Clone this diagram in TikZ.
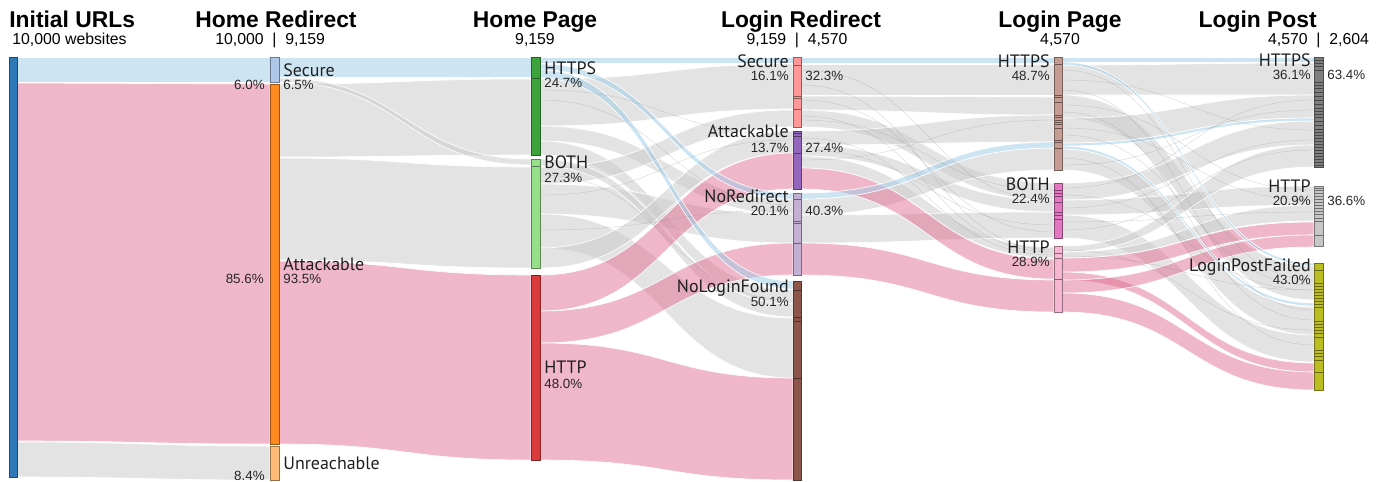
\documentclass[tikz,border=0pt]{standalone}
\usepackage{fontspec}
\setmainfont{Liberation Sans}
\newfontfamily\lblfont{PT Sans}
\usetikzlibrary{fit, positioning}

% flow colours (drawn half transparent)
\definecolor{flowgray}{HTML}{C8C8C8}
\definecolor{flowpink}{HTML}{E06F93}
\definecolor{flowblue}{HTML}{9BCBE8}
% bar colours
\definecolor{initblue}{HTML}{2E78B7}
\definecolor{hrsec}{HTML}{AEC7E8}
\definecolor{hratt}{HTML}{FF8A1F}
\definecolor{hrunr}{HTML}{FFBB78}
\definecolor{hphttps}{HTML}{3DA33D}
\definecolor{hpboth}{HTML}{98DF8A}
\definecolor{hphttp}{HTML}{DC3B3B}
\definecolor{lrsec}{HTML}{FF9896}
\definecolor{lratt}{HTML}{9467BD}
\definecolor{lrnor}{HTML}{C5B0D5}
\definecolor{lrnlf}{HTML}{8C564B}
\definecolor{lphttps}{HTML}{C49C94}
\definecolor{lpboth}{HTML}{E377C2}
\definecolor{lphttp}{HTML}{F7B6D2}
\definecolor{pohttps}{HTML}{7F7F7F}
\definecolor{pohttp}{HTML}{C7C7C7}
\definecolor{pofail}{HTML}{BCBD22}

% band from (x1, top1..bot1) to (x2, top2..bot2)
\newcommand{\band}[7]{%
  \pgfmathsetmacro\bandmid{(#1+#4)/2}%
  \path[#7] (#1,#2) .. controls (\bandmid,#2) and (\bandmid,#5) .. (#4,#5)
    -- (#4,#6) .. controls (\bandmid,#6) and (\bandmid,#3) .. (#1,#3) -- cycle;}
% bar node spanning a box
\newcommand{\sbar}[6]{\node[bar=#6, fit={(#2,#3) (#4,#5)}] (#1) {};}

\begin{document}
\begin{tikzpicture}[x=0.02cm, y=-0.02cm,
    bar/.style={draw=#1!60!black, fill=#1, line width=0.45pt, inner sep=0pt},
    seg/.style={draw=#1!55!black, line width=0.35pt},
    gflow/.style={fill=flowgray, fill opacity=0.5, draw=white, line width=0.35pt},
    pflow/.style={fill=flowpink, fill opacity=0.5, draw=white, line width=0.35pt},
    bflow/.style={fill=flowblue, fill opacity=0.5, draw=white, line width=0.35pt},
    thinflow/.style={draw=black!50, line width=0.2pt, draw opacity=0.35},
    head/.style={font=\fontsize{13}{15}\selectfont\bfseries, inner sep=0pt},
    sub/.style={font=\fontsize{9}{11}\selectfont, inner sep=0pt},
    lbl/.style={font=\lblfont\fontsize{10.2}{11}\selectfont, text=black!88, inner sep=0pt},
    pct/.style={font=\fontsize{7.6}{9}\selectfont, text=black!85, inner sep=0pt}
  ]
  \useasboundingbox (0,0) rectangle (1381,481);

  %% flows: Initial URLs -> Home Redirect
  \band{17}{442}{477}{270}{446}{480}{gflow}
  \band{17}{83}{441}{270}{84}{444}{pflow}
  \band{17}{57}{82}{270}{57}{82}{bflow}

  %% Home Redirect -> Home Page
  \band{279}{84}{157}{531}{79}{155}{gflow}
  \band{279}{158}{260}{531}{167}{268}{gflow}
  \band{279}{78}{82}{531}{159}{165}{gflow}
  \band{279}{261}{444}{531}{275}{460}{pflow}
  \band{279}{57}{77}{531}{57}{77}{bflow}

  %% Home Page -> Login Redirect
  \band{540}{79}{126}{793}{64}{109}{gflow}
  \band{540}{126}{141}{793}{199}{214}{gflow}
  \band{540}{141}{155}{793}{290}{304}{gflow}
  \band{540}{167}{184}{793}{110}{127}{gflow}
  \band{540}{184}{214}{793}{214}{243}{gflow}
  \band{540}{214}{248}{793}{318}{378}{gflow}
  \band{540}{159}{166}{793}{304}{317}{gflow}
  \band{540}{248}{268}{793}{131}{153}{gflow}
  \band{540}{275}{311}{793}{153}{189}{pflow}
  \band{540}{311}{343}{793}{243}{275}{pflow}
  \band{540}{343}{460}{793}{378}{480}{pflow}
  \band{540}{57}{63}{793}{57}{63}{bflow}
  \band{540}{64}{70}{793}{193}{199}{bflow}
  \band{540}{70}{78}{793}{281}{289}{bflow}
  \foreach \ya/\yb in {90/135, 100/205, 175/300, 195/140, 230/210}
    \draw[thinflow] (540,\ya) .. controls (666,\ya) and (666,\yb) .. (793,\yb);

  %% Login Redirect -> Login Page
  \band{801}{64}{95}{1054}{64}{95}{gflow}
  \band{801}{96}{110}{1054}{97}{115}{gflow}
  \band{801}{110}{127}{1054}{183}{200}{gflow}
  \band{801}{131}{145}{1054}{115}{142}{gflow}
  \band{801}{145}{156}{1054}{200}{212}{gflow}
  \band{801}{156}{168}{1054}{247}{258}{gflow}
  \band{801}{199}{215}{1054}{148}{170}{gflow}
  \band{801}{215}{243}{1054}{212}{238}{gflow}
  \band{801}{168}{189}{1054}{259}{279}{pflow}
  \band{801}{243}{275}{1054}{280}{312}{pflow}
  \band{801}{57}{63}{1054}{57}{63}{bflow}
  \band{801}{193}{199}{1054}{142}{148}{bflow}
  \foreach \ya/\yb in {70/200, 85/250, 100/232, 116/252, 120/190, 138/255, 150/225, 160/120}
    \draw[thinflow] (801,\ya) .. controls (927,\ya) and (927,\yb) .. (1054,\yb);

  %% Login Page -> Login Post
  \band{1062}{65}{95}{1314}{63}{95}{gflow}
  \band{1062}{95}{118}{1314}{266}{300}{gflow}
  \band{1062}{118}{143}{1314}{95}{118}{gflow}
  \band{1062}{149}{170}{1314}{307}{335}{gflow}
  \band{1062}{183}{200}{1314}{121}{145}{gflow}
  \band{1062}{200}{215}{1314}{186}{205}{gflow}
  \band{1062}{215}{238}{1314}{335}{362}{gflow}
  \band{1062}{246}{252}{1314}{145}{167}{gflow}
  \band{1062}{252}{258}{1314}{205}{221}{gflow}
  \band{1062}{258}{272}{1314}{222}{235}{pflow}
  \band{1062}{272}{280}{1314}{363}{372}{pflow}
  \band{1062}{280}{293}{1314}{235}{247}{pflow}
  \band{1062}{293}{312}{1314}{372}{390}{pflow}
  \band{1062}{57}{62}{1314}{57}{62}{bflow}
  \band{1062}{62}{65}{1314}{263}{266}{bflow}
  \band{1062}{143}{146}{1314}{118}{121}{bflow}
  \band{1062}{146}{149}{1314}{303}{306}{bflow}
  \foreach \ya/\yb in {70/280, 80/130, 90/310, 105/190, 112/320, 128/200, 135/285, 158/345, 165/110,
                       188/100, 195/290, 208/140, 222/212, 230/150, 250/330, 256/290}
    \draw[thinflow] (1062,\ya) .. controls (1188,\ya) and (1188,\yb) .. (1314,\yb);

  %% bars
  \sbar{init}{9}{57}{17}{477}{initblue}
  \sbar{hrSec}{270}{57}{279}{82}{hrsec}
  \sbar{hrAtt}{270}{84}{279}{444}{hratt}
  \sbar{hrUnr}{270}{446}{279}{480}{hrunr}
  \sbar{hpHttps}{531}{57}{540}{155}{hphttps}
  \sbar{hpBoth}{531}{159}{540}{268}{hpboth}
  \sbar{hpHttp}{531}{275}{540}{460}{hphttp}
  \sbar{lrSec}{793}{57}{801}{127}{lrsec}
  \sbar{lrAtt}{793}{131}{801}{189}{lratt}
  \sbar{lrNor}{793}{193}{801}{275}{lrnor}
  \sbar{lrNlf}{793}{281}{801}{480}{lrnlf}
  \sbar{lpHttps}{1054}{57}{1062}{170}{lphttps}
  \sbar{lpBoth}{1054}{183}{1062}{238}{lpboth}
  \sbar{lpHttp}{1054}{246}{1062}{312}{lphttp}
  \sbar{poHttps}{1314}{57}{1323}{167}{pohttps}
  \sbar{poHttp}{1314}{186}{1323}{246}{pohttp}
  \sbar{poFail}{1314}{263}{1323}{390}{pofail}

  % segment cuts inside the bars
  \foreach \y in {78} \draw[seg=hphttps] (531,\y) -- (540,\y);
  \foreach \y in {166} \draw[seg=hpboth] (531,\y) -- (540,\y);
  \foreach \y in {65, 96, 98, 109} \draw[seg=lrsec] (793,\y) -- (801,\y);
  \foreach \y in {133, 136, 153} \draw[seg=lratt] (793,\y) -- (801,\y);
  \foreach \y in {199, 221, 223, 243} \draw[seg=lrnor] (793,\y) -- (801,\y);
  \foreach \y in {290, 317, 321, 378} \draw[seg=lrnlf] (793,\y) -- (801,\y);
  \foreach \y in {64, 95, 97, 102, 115, 117, 120, 122, 124, 128, 140, 142, 148}
    \draw[seg=lphttps] (1054,\y) -- (1062,\y);
  \foreach \y in {190, 193, 196, 202, 212, 215, 219} \draw[seg=lpboth] (1054,\y) -- (1062,\y);
  \foreach \y in {253, 258, 279} \draw[seg=lphttp] (1054,\y) -- (1062,\y);
  \foreach \y in {60, 63, 66, 70, 82, 85, 88, 92, 96, 100, 104, 108, 111, 114, 117, 121, 125,
                  129, 132, 135, 138, 141, 144, 147, 150, 153, 156, 159, 162, 165}
    \draw[seg=pohttps] (1314,\y) -- (1323,\y);
  \foreach \y in {188, 190, 193, 196, 199, 202, 205, 208, 211, 214, 218, 221, 235}
    \draw[seg=pohttp] (1314,\y) -- (1323,\y);
  \foreach \y in {270, 283, 286, 289, 292, 295, 298, 301, 304, 307, 321, 324, 327, 330, 333,
                  337, 350, 353, 356, 360, 372}
    \draw[seg=pofail] (1314,\y) -- (1323,\y);

  %% column heads
  \node[head, anchor=base west] (hInit) at (9,27) {Initial URLs};
  \node[sub, anchor=base west] (nInit) at (12,44) {10,000 websites};
  \node[head, anchor=base] (hHR) at (276,27) {Home Redirect};
  \node[sub, anchor=base] (pHR) at (274.5,44) {|};
  \node[sub, anchor=base east] (nHRin) at ([xshift=-4.6pt]pHR.base west) {10,000};
  \node[sub, anchor=base west] (nHRout) at ([xshift=4.6pt]pHR.base east) {9,159};
  \node[head, anchor=base] (hHP) at (535,27) {Home Page};
  \node[sub, anchor=base] (nHP) at (535,44) {9,159};
  \node[head, anchor=base] (hLR) at (801,27) {Login Redirect};
  \node[sub, anchor=base] (pLR) at (797,44) {|};
  \node[sub, anchor=base east] (nLRin) at ([xshift=-4.6pt]pLR.base west) {9,159};
  \node[sub, anchor=base west] (nLRout) at ([xshift=4.6pt]pLR.base east) {4,570};
  \node[head, anchor=base] (hLP) at (1060,27) {Login Page};
  \node[sub, anchor=base] (nLP) at (1060,44) {4,570};
  \node[head, anchor=base east] (hPO) at (1317,27) {Login Post};
  \node[sub, anchor=base] (pPO) at (1318.5,44) {|};
  \node[sub, anchor=base east] (nPOin) at ([xshift=-4.6pt]pPO.base west) {4,570};
  \node[sub, anchor=base west] (nPOout) at ([xshift=4.6pt]pPO.base east) {2,604};

  %% Home Redirect labels
  \node[lbl, anchor=base west] (lHRsec) at (283,76) {Secure};
  \node[pct, anchor=base west] at (283,89) {6.5\%};
  \node[pct, anchor=base east] at (265,89) {6.0\%};
  \node[lbl, anchor=base west] (lHRatt) at (283,270) {Attackable};
  \node[pct, anchor=base west] at (283,283) {93.5\%};
  \node[pct, anchor=base east] at (264,283) {85.6\%};
  \node[lbl, anchor=base west] (lHRunr) at (283,469) {Unreachable};
  \node[pct, anchor=base east] at (265,480) {8.4\%};

  %% Home Page labels
  \node[lbl, anchor=base west] (lHPhttps) at (544,74) {HTTPS};
  \node[pct, anchor=base west] at (544,87) {24.7\%};
  \node[lbl, anchor=base west] (lHPboth) at (544,168) {BOTH};
  \node[pct, anchor=base west] at (544,182) {27.3\%};
  \node[lbl, anchor=base west] (lHPhttp) at (544,373) {HTTP};
  \node[pct, anchor=base west] at (544,388) {48.0\%};

  %% Login Redirect labels
  \node[lbl, anchor=base east] (lLRsec) at (789,67) {Secure};
  \node[pct, anchor=base east] at (789,80) {16.1\%};
  \node[pct, anchor=base west] at (805,80) {32.3\%};
  \node[lbl, anchor=base east] (lLRatt) at (789,137) {Attackable};
  \node[pct, anchor=base east] at (789,152) {13.7\%};
  \node[pct, anchor=base west] at (805,152) {27.4\%};
  \node[lbl, anchor=base east] (lLRnor) at (789,202) {NoRedirect};
  \node[pct, anchor=base east] at (789,215) {20.1\%};
  \node[pct, anchor=base west] at (805,215) {40.3\%};
  \node[lbl, anchor=base east] (lLRnlf) at (789,292) {NoLoginFound};
  \node[pct, anchor=base east] at (789,306) {50.1\%};

  %% Login Page labels
  \node[lbl, anchor=base east] (lLPhttps) at (1050,67) {HTTPS};
  \node[pct, anchor=base east] at (1050,80) {48.7\%};
  \node[lbl, anchor=base east] (lLPboth) at (1050,190) {BOTH};
  \node[pct, anchor=base east] at (1050,203) {22.4\%};
  \node[lbl, anchor=base east] (lLPhttp) at (1050,253) {HTTP};
  \node[pct, anchor=base east] at (1050,266) {28.9\%};

  %% Login Post labels
  \node[lbl, anchor=base east] (lPOhttps) at (1311,66) {HTTPS};
  \node[pct, anchor=base east] at (1311,79) {36.1\%};
  \node[pct, anchor=base west] at (1327,79) {63.4\%};
  \node[lbl, anchor=base east] (lPOhttp) at (1311,192) {HTTP};
  \node[pct, anchor=base east] at (1311,205) {20.9\%};
  \node[pct, anchor=base west] at (1327,205) {36.6\%};
  \node[lbl, anchor=base east] (lPOfail) at (1311,271) {LoginPostFailed};
  \node[pct, anchor=base east] at (1311,284) {43.0\%};
\end{tikzpicture}
\end{document}
